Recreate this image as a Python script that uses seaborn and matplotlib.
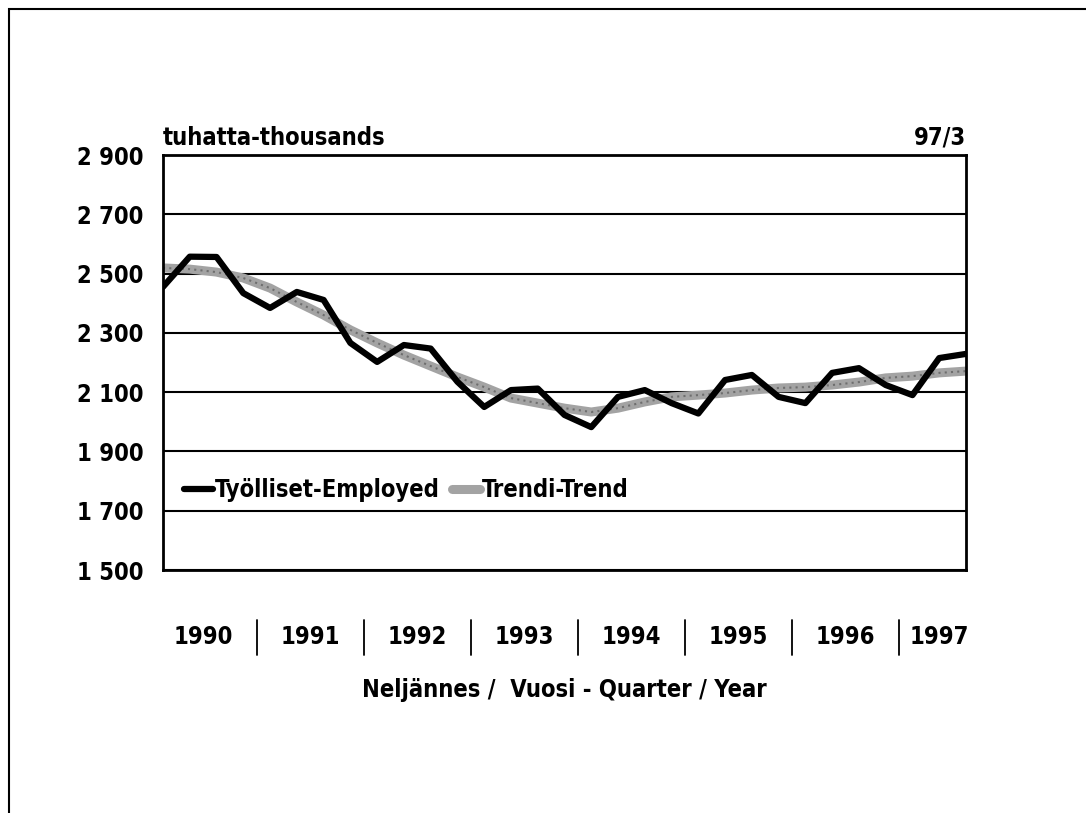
import matplotlib
matplotlib.use("Agg")
import matplotlib.pyplot as plt
import matplotlib.transforms as mtransforms
import pandas as pd
import seaborn as sns

# quarterly data 1990/1 .. 1997/3, thousands
years = ["1990", "1991", "1992", "1993", "1994", "1995", "1996", "1997"]
quarters_per_year = [4, 4, 4, 4, 4, 4, 4, 3]

employed = [2455, 2557, 2556, 2434, 2384, 2438, 2411, 2266, 2202, 2259,
            2247, 2135, 2050, 2107, 2112, 2023, 1982, 2084, 2107, 2063,
            2028, 2141, 2158, 2084, 2063, 2165, 2181, 2124, 2090, 2215, 2229]
trend = [2519, 2515, 2505, 2485, 2451, 2404, 2360, 2310, 2266, 2225,
         2188, 2151, 2117, 2080, 2063, 2046, 2033, 2046, 2067, 2084,
         2090, 2097, 2107, 2114, 2117, 2124, 2134, 2148, 2154, 2165, 2171]

y_ticks = [1500, 1700, 1900, 2100, 2300, 2500, 2700, 2900]
y_labels = ["1 500", "1 700", "1 900", "2 100", "2 300", "2 500", "2 700", "2 900"]

sns.set_style("white")
plt.rcParams['font.family'] = ['Liberation Sans Narrow', 'DejaVu Sans']
plt.rcParams['font.stretch'] = 'condensed'
plt.rcParams['font.size'] = 17
plt.rcParams['text.color'] = 'black'
plt.rcParams['ytick.labelcolor'] = 'black'

quarter = list(range(len(employed)))
df = pd.DataFrame({'q': quarter, 'employed': employed, 'trend': trend})

fig = plt.figure(figsize=(10.86, 8.13), dpi=100)
ax = fig.add_axes([163 / 1086, 1 - 570 / 813, 803 / 1086, 415 / 813])

# outer frame (only left and top edges visible in the original)
fig.add_artist(plt.Rectangle((9 / 1086, -0.05), 1.2, 1 - 9 / 813 + 0.05,
                             transform=fig.transFigure, fill=False,
                             edgecolor='black', lw=1.5))

for v in y_ticks:
    ax.axhline(v, color='black', lw=1.5, zorder=1)

sns.lineplot(data=df, x='q', y='trend', ax=ax, color='#a3a3a3', lw=6.5,
             label='Trendi-Trend', zorder=2)
ax.plot(df['q'], df['trend'], color='#6e6e6e', lw=1.5, ls=(0, (1, 2)), zorder=2.5)
sns.lineplot(data=df, x='q', y='employed', ax=ax, color='black', lw=4.5,
             label='Työlliset-Employed', zorder=3)

ax.set_xlim(0, len(employed) - 1)
ax.set_ylim(1500, 2900)
ax.set_yticks(y_ticks)
ax.set_yticklabels(y_labels, fontsize=17, fontweight='bold', color='black')
ax.tick_params(axis='y', length=0, pad=14)
ax.set_xticks(quarter[1:-1])
ax.set_xticklabels([])
ax.tick_params(axis='x', direction='in', length=8, width=1.2, color='black')
ax.set_xlabel('')
ax.set_ylabel('')
for s in ax.spines.values():
    s.set_color('black')
    s.set_linewidth(2)

# year labels and separators under the axis
trans = mtransforms.blended_transform_factory(ax.transData, ax.transAxes)
start = 0
for yr, n in zip(years, quarters_per_year):
    center = start + (n - 1) / 2
    ax.text(center, -0.161, yr, transform=trans, ha='center', va='center',
            fontsize=17, fontweight='bold')
    if start > 0:
        ax.plot([start - 0.5, start - 0.5], [-0.12, -0.205], transform=trans,
                color='black', lw=1.3, clip_on=False)
    start += n

ax.text(0.5, -0.289, 'Neljännes /  Vuosi - Quarter / Year', transform=ax.transAxes,
        ha='center', va='center', fontsize=17, fontweight='bold')
ax.text(0.0, 1.041, 'tuhatta-thousands', transform=ax.transAxes,
        ha='left', va='center', fontsize=17, fontweight='bold')
ax.text(1.0, 1.041, '97/3', transform=ax.transAxes,
        ha='right', va='center', fontsize=17, fontweight='bold')

handles, labels = ax.get_legend_handles_labels()
order = [labels.index('Työlliset-Employed'), labels.index('Trendi-Trend')]
leg = ax.legend([handles[i] for i in order], [labels[i] for i in order],
                loc='center left', bbox_to_anchor=(0.0, 0.193), ncol=2,
                frameon=False, handlelength=1.2, handletextpad=0.1,
                columnspacing=0.5, prop={'size': 17, 'weight': 'bold'})

plt.savefig('out.png', dpi=100)
